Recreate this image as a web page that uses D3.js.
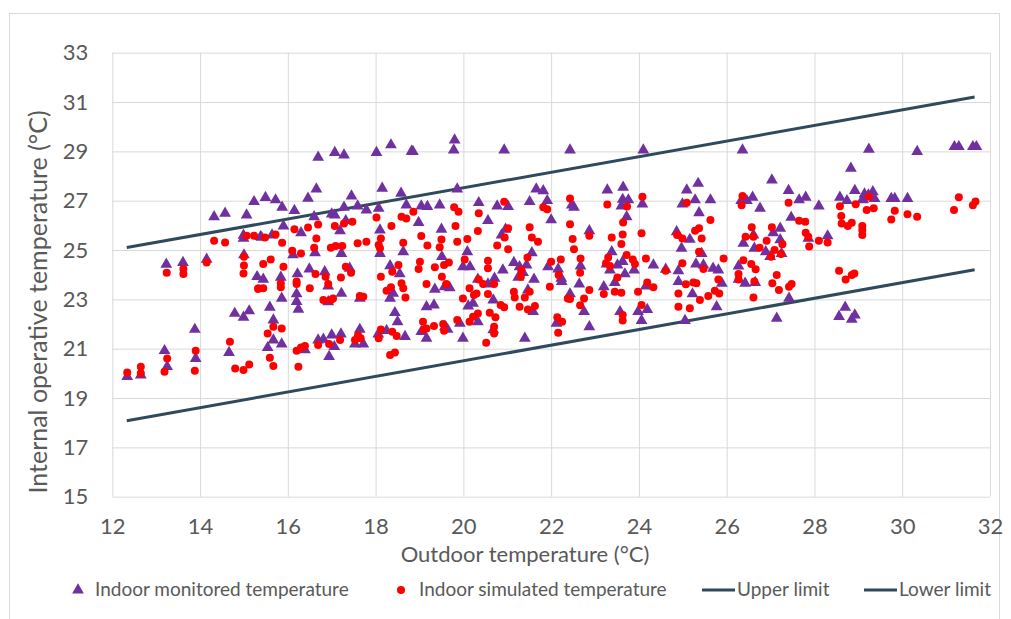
<!DOCTYPE html>
<html>
<head>
<meta charset="utf-8">
<script src="https://cdn.jsdelivr.net/npm/d3@7"></script>
<style>
	body { margin: 0; background: #fff; }
	text { font-family: Lato, "Open Sans", sans-serif; fill: #595959; }
</style>
</head>
<body>
<div id="chart"></div>
<script>
// outdoor temperature, indoor temperature (°C)
var monitored = [
	[12.34,19.87],[12.65,19.93],[13.19,20.92],[13.25,20.27],[13.88,21.78],[13.9,20.6],[13.23,24.42],[13.61,24.49],[14.15,24.62],[14.32,26.35],[14.57,26.49],[15.06,26.42],[15.23,26.96],[14.99,25.6],[14.99,25.47],[15.0,24.8],[15.3,23.92],[14.79,22.43],[14.99,22.27],[15.12,22.53],[14.66,20.84],[15.38,25.54],
	[15.49,27.13],[15.72,27.03],[15.87,26.73],[16.15,26.6],[16.46,27.1],[16.65,27.47],[16.69,28.76],[17.07,28.95],[17.28,28.85],[18.02,28.95],[18.35,29.26],[18.82,29.0],[18.15,27.5],[18.58,27.3],[18.7,26.82],[17.45,27.19],[17.28,26.73],[17.59,26.78],[17.79,26.62],[18.07,26.69],[16.6,26.35],[17.0,26.46],[17.07,26.42],[15.9,25.97],[16.3,25.7],[17.19,25.78],[17.32,26.19],[18.1,25.81],[15.4,25.51],[15.64,25.61],[16.12,24.8],[16.62,24.89],[17.22,24.86],[18.1,24.86],[18.63,24.93],[15.44,23.81],[15.84,23.89],[16.22,24.03],[16.49,24.23],[16.84,24.12],[17.41,24.26],[18.33,24.36],[18.55,24.03],[16.2,23.22],[16.2,22.91],[16.24,22.6],[15.86,23.04],[16.92,23.54],[17.22,23.24],[16.92,22.9],[17.64,23.04],[18.33,23.04],[18.4,23.24],[15.59,22.68],[15.67,22.16],[18.44,22.46],[18.5,22.09],[15.67,21.35],[15.54,21.04],[15.86,21.19],[16.39,20.95],[16.69,21.35],[16.81,21.38],[17.0,21.55],[17.21,21.59],[17.06,21.08],[16.94,20.68],[17.64,21.78],[17.53,21.19],[17.72,21.19],[18.06,21.59],[18.25,21.73],[18.67,21.49],
	[18.85,28.99],[19.8,29.46],[19.78,29.05],[20.93,29.05],[19.86,27.47],[21.66,27.47],[21.82,27.4],[19.04,26.78],[19.18,26.76],[19.46,26.82],[20.35,26.92],[20.77,26.78],[21.02,26.76],[21.51,26.96],[21.91,27.0],[22.0,26.22],[18.98,26.11],[19.5,25.84],[20.56,26.19],[20.87,25.61],[20.96,25.84],[19.51,24.73],[20.09,24.93],[19.99,24.32],[20.15,24.32],[20.9,24.19],[21.15,24.49],[21.28,24.32],[21.44,24.39],[21.56,24.89],[21.93,24.32],[22.16,24.23],[22.23,23.85],[21.61,23.81],[19.35,23.41],[19.57,23.51],[19.69,23.47],[20.33,23.81],[20.56,23.62],[20.71,23.85],[20.68,22.97],[20.11,22.73],[20.22,22.84],[19.16,22.7],[19.33,22.77],[21.25,23.89],[21.36,24.08],[21.47,23.38],[21.59,22.5],[19.04,21.69],[19.16,21.42],[19.58,21.89],[19.64,21.78],[19.92,22.03],[19.99,21.42],[20.33,22.09],[20.68,21.76],[21.4,21.42],[22.12,22.03],
	[22.43,29.05],[24.1,29.05],[23.28,27.43],[23.64,27.54],[23.63,27.05],[23.76,27.03],[23.6,26.78],[22.47,26.82],[22.52,26.73],[23.72,26.35],[24.08,26.86],[22.87,25.78],[25.09,27.43],[25.35,27.7],[24.99,26.86],[25.28,27.03],[25.37,26.51],[25.63,27.03],[24.86,25.74],[25.16,25.43],[24.97,25.07],[25.43,24.86],[23.38,24.93],[22.67,24.35],[23.26,24.43],[23.34,24.19],[23.51,24.39],[23.63,24.53],[23.68,24.03],[23.89,24.19],[23.45,23.68],[24.33,24.39],[24.61,24.22],[24.9,24.16],[24.9,23.72],[25.3,24.43],[25.47,24.39],[25.69,24.26],[25.81,24.19],[25.22,23.22],[25.77,22.7],[22.24,23.72],[22.64,23.62],[22.43,23.22],[23.2,23.51],[24.16,23.54],[22.75,22.5],[22.87,21.89],[23.57,22.5],[23.98,22.5],[24.06,22.14],[24.19,22.59],[25.05,22.14],
	[26.36,29.05],[29.24,29.08],[27.03,27.84],[28.83,28.31],[27.41,27.41],[27.65,27.03],[27.8,27.14],[28.1,26.78],[28.58,27.14],[28.74,27.0],[28.92,27.41],[29.11,27.05],[29.23,27.23],[26.33,27.0],[26.46,27.0],[26.59,27.14],[26.76,26.69],[27.47,26.32],[27.22,25.88],[27.06,25.7],[26.61,25.61],[26.38,25.27],[26.63,25.07],[27.22,25.41],[27.25,24.86],[26.89,24.93],[26.99,24.73],[28.3,25.57],[27.86,25.47],[26.27,24.35],[25.89,23.65],[26.27,23.81],[26.42,23.65],[26.65,23.68],[27.42,23.04],[27.14,22.23],[28.7,22.68],[28.56,22.3],[28.85,22.19],[28.92,22.36],
	[30.34,28.99],[31.19,29.19],[31.29,29.19],[31.61,29.19],[31.69,29.19],[29.14,27.27],[29.33,27.36],[29.09,27.03],[29.37,27.09],[29.75,27.09],[29.83,27.09],[30.12,27.09]
];

var simulated = [
	[12.34,20.04],[12.65,20.27],[12.65,20.0],[13.25,20.6],[13.19,20.07],[13.9,20.92],[13.88,20.11],[14.68,21.28],[14.8,20.2],[14.99,20.14],[15.12,20.36],[13.24,24.08],[13.62,24.23],[13.62,24.03],[14.15,24.49],[14.32,25.38],[14.57,25.31],[15.06,25.58],[15.23,25.58],[15.0,24.73],[15.0,24.37],[14.99,24.05],[15.32,23.42],
	[15.48,25.51],[15.72,25.63],[15.87,25.3],[16.15,25.84],[16.46,25.91],[16.69,26.04],[16.65,25.47],[17.07,25.97],[17.28,26.08],[17.47,26.15],[18.02,26.32],[18.36,25.97],[18.59,26.35],[18.7,26.28],[18.86,26.55],[16.1,24.97],[16.3,24.86],[16.6,25.09],[16.98,25.09],[17.09,25.16],[17.24,25.16],[17.59,25.27],[17.79,25.34],[18.12,25.47],[18.07,25.2],[18.1,25.07],[18.63,25.3],[15.44,24.43],[15.61,24.62],[15.9,24.32],[16.63,24.03],[16.86,23.92],[16.92,23.62],[17.21,23.89],[17.32,24.32],[17.44,24.08],[18.12,23.92],[18.38,24.12],[18.52,24.39],[15.33,23.45],[15.44,23.45],[15.84,23.65],[15.84,23.49],[16.2,23.72],[16.2,23.62],[16.5,23.45],[16.81,22.97],[16.98,22.97],[17.03,23.04],[17.64,23.14],[17.72,23.11],[18.25,23.35],[18.35,23.49],[18.59,23.65],[18.68,23.08],[18.63,23.45],[15.67,21.89],[15.86,21.82],[15.54,21.62],[15.59,20.63],[15.67,20.3],[16.2,20.92],[16.3,21.05],[16.39,21.11],[16.24,20.27],[16.69,21.15],[16.94,21.19],[17.19,21.35],[17.53,21.35],[17.6,21.55],[17.66,21.42],[18.07,21.42],[18.12,21.78],[18.38,21.69],[18.48,21.51],[18.33,20.74],[18.44,20.85],
	[19.79,26.73],[19.89,26.55],[20.35,26.49],[20.93,26.96],[21.82,26.73],[21.91,26.65],[19.82,25.97],[20.33,25.77],[21.02,25.88],[21.51,25.92],[19.04,25.57],[19.5,25.43],[19.46,25.11],[19.86,25.34],[20.09,25.45],[19.18,25.18],[20.77,25.18],[20.94,25.51],[21.02,25.03],[21.56,25.51],[21.7,25.34],[19.01,24.53],[18.98,24.23],[19.35,24.3],[19.56,24.39],[19.67,24.49],[20.03,24.62],[20.56,24.57],[20.56,24.26],[21.46,24.7],[22.0,24.53],[22.22,24.62],[21.32,24.19],[21.31,23.92],[22.17,23.99],[19.16,23.62],[19.51,23.92],[19.61,23.62],[20.14,23.45],[20.35,23.81],[20.45,23.62],[20.7,23.62],[20.56,23.22],[19.99,23.04],[20.24,23.18],[20.3,23.24],[21.15,23.31],[21.17,23.08],[21.4,23.08],[21.51,23.31],[20.85,22.77],[20.93,22.68],[21.28,22.7],[21.47,22.59],[21.63,22.73],[21.97,23.51],[22.38,23.04],[19.08,22.09],[19.1,21.78],[19.16,21.82],[19.33,21.92],[19.54,22.0],[19.56,21.73],[19.86,22.16],[20.14,22.09],[20.22,22.3],[20.33,22.43],[20.6,22.46],[20.73,22.27],[20.7,21.89],[20.7,21.62],[20.52,21.24],[22.14,22.27],[22.25,22.09],[22.16,21.65],
	[22.43,27.09],[23.28,26.85],[24.08,27.16],[23.73,26.76],[23.64,26.12],[22.43,26.05],[24.06,25.68],[22.87,25.58],[23.38,25.51],[23.63,25.63],[23.6,25.24],[22.49,25.45],[22.52,25.03],[25.09,26.92],[25.63,26.22],[25.28,25.78],[25.37,25.88],[25.43,25.47],[24.87,25.61],[24.99,25.47],[25.37,24.93],[24.99,24.46],[25.47,24.23],[22.67,24.66],[23.3,24.7],[23.34,24.35],[23.25,24.46],[23.72,24.8],[23.86,24.62],[23.91,24.43],[24.16,24.66],[22.66,24.08],[23.51,23.89],[24.61,24.16],[22.87,23.38],[23.45,23.31],[23.6,23.27],[23.98,23.31],[24.19,23.68],[24.33,23.49],[25.07,23.61],[25.24,23.68],[25.31,23.65],[24.9,23.24],[25.58,23.14],[25.73,23.35],[25.83,23.24],[22.43,23.01],[22.75,23.04],[22.66,22.76],[23.2,23.22],[24.06,22.77],[23.63,22.37],[23.63,22.14],[24.9,22.7],[25.16,22.64],[25.39,22.97],
	[26.36,27.19],[26.34,26.82],[27.41,26.92],[27.65,26.19],[27.79,26.15],[26.57,25.92],[27.03,25.92],[26.43,25.54],[26.61,25.54],[27.8,25.7],[27.86,25.54],[27.88,25.14],[28.1,25.38],[28.3,25.31],[26.91,25.38],[26.75,25.09],[27.27,25.23],[27.09,25.0],[27.01,24.73],[27.24,24.84],[28.58,26.78],[28.61,26.38],[28.62,26.08],[28.76,25.97],[28.85,26.11],[28.94,26.86],[29.09,25.97],[29.09,25.81],[29.09,25.61],[29.19,26.62],[29.24,27.16],[25.93,24.66],[26.38,24.59],[26.56,24.43],[26.66,24.22],[25.81,23.81],[26.27,24.03],[26.27,23.81],[26.63,23.72],[27.14,23.99],[27.04,23.65],[27.19,23.38],[27.42,23.51],[27.48,23.62],[26.61,23.08],[28.56,24.16],[28.71,23.81],[28.85,23.99],[28.91,24.05],
	[29.35,26.69],[29.83,26.59],[29.75,26.24],[30.12,26.45],[30.34,26.35],[31.18,26.62],[31.29,27.14],[31.61,26.82],[31.67,26.97]
];

var upperLimit = [[12.33, 25.1], [31.65, 31.2]];
var lowerLimit = [[12.33, 18.08], [31.65, 24.2]];

var xTicks = [12, 14, 16, 18, 20, 22, 24, 26, 28, 30, 32];
var yTicks = [15, 17, 19, 21, 23, 25, 27, 29, 31, 33];

function init() {

	var w = 1011;
	var h = 619;
	var left = 112.3, right = 990, top = 52.7, bottom = 496.7;

	var svg = d3.select("#chart")
		.append("svg")
		.attr("width", w)
		.attr("height", h);

	// chart border
	svg.append("rect")
		.attr("x", 9.5)
		.attr("y", 13.5)
		.attr("width", 990)
		.attr("height", 620)
		.attr("fill", "none")
		.attr("stroke", "#d9d9d9");

	var xScale = d3.scaleLinear()
		.domain([12, 32])
		.range([left, right]);

	var yScale = d3.scaleLinear()
		.domain([15, 33])
		.range([bottom, top]);

	// gridlines
	svg.append("g")
		.attr("transform", `translate(0,${bottom})`)
		.call(d3.axisBottom(xScale).tickValues(xTicks).tickSize(-(bottom - top)).tickFormat(""))
		.call(g => g.select(".domain").remove())
		.call(g => g.selectAll("line").attr("stroke", "#d9d9d9"));

	svg.append("g")
		.attr("transform", `translate(${left},0)`)
		.call(d3.axisLeft(yScale).tickValues(yTicks).tickSize(-(right - left)).tickFormat(""))
		.call(g => g.select(".domain").remove())
		.call(g => g.selectAll("line").attr("stroke", "#d9d9d9"));

	// tick labels
	svg.append("g")
		.attr("transform", `translate(0,${bottom + 19})`)
		.call(d3.axisBottom(xScale).tickValues(xTicks).tickSize(0))
		.call(g => g.select(".domain").remove())
		.call(g => g.selectAll("text").attr("font-size", 22).attr("fill", "#595959").style("font-family", "Lato, sans-serif"));

	svg.append("g")
		.attr("transform", `translate(${left - 21},0)`)
		.call(d3.axisLeft(yScale).tickValues(yTicks).tickSize(0))
		.call(g => g.select(".domain").remove())
		.call(g => g.selectAll("text").attr("font-size", 22).attr("fill", "#595959").style("font-family", "Lato, sans-serif"));

	// axis titles
	svg.append("text")
		.attr("x", 525)
		.attr("y", 562)
		.attr("text-anchor", "middle")
		.attr("font-size", 22)
		.text("Outdoor temperature (°C)");

	svg.append("text")
		.attr("transform", "translate(47,302) rotate(-90)")
		.attr("text-anchor", "middle")
		.attr("font-size", 25)
		.text("Internal operative temperature (°C)");

	var line = d3.line()
		.x(d => xScale(d[0]))
		.y(d => yScale(d[1]));

	svg.append("path")
		.datum(upperLimit)
		.attr("d", line)
		.attr("fill", "none")
		.attr("stroke", "#2e4a5c")
		.attr("stroke-width", 3);

	svg.append("path")
		.datum(lowerLimit)
		.attr("d", line)
		.attr("fill", "none")
		.attr("stroke", "#2e4a5c")
		.attr("stroke-width", 3);

	var tri = d3.symbol().type(d3.symbolTriangle).size(60);

	svg.append("g")
		.selectAll("path")
		.data(monitored)
		.join("path")
			.attr("transform", d => `translate(${xScale(d[0])},${yScale(d[1])})`)
			.attr("d", tri)
			.attr("fill", "#7030a0");

	svg.append("g")
		.selectAll("circle")
		.data(simulated)
		.join("circle")
			.attr("cx", d => xScale(d[0]))
			.attr("cy", d => yScale(d[1]))
			.attr("r", 4)
			.attr("fill", "#ff0000");

	// legend
	var ly = 590;
	var legend = svg.append("g");

	legend.append("path")
		.attr("transform", `translate(78,${ly})`)
		.attr("d", tri)
		.attr("fill", "#7030a0");
	legend.append("text")
		.attr("x", 95).attr("y", ly + 6)
		.attr("font-size", 19)
		.text("Indoor monitored temperature");

	legend.append("circle")
		.attr("cx", 401).attr("cy", ly)
		.attr("r", 4)
		.attr("fill", "#ff0000");
	legend.append("text")
		.attr("x", 419).attr("y", ly + 6)
		.attr("font-size", 19)
		.text("Indoor simulated temperature");

	legend.append("line")
		.attr("x1", 702).attr("x2", 735)
		.attr("y1", ly).attr("y2", ly)
		.attr("stroke", "#2e4a5c")
		.attr("stroke-width", 3);
	legend.append("text")
		.attr("x", 737).attr("y", ly + 6)
		.attr("font-size", 19)
		.text("Upper limit");

	legend.append("line")
		.attr("x1", 864).attr("x2", 897)
		.attr("y1", ly).attr("y2", ly)
		.attr("stroke", "#2e4a5c")
		.attr("stroke-width", 3);
	legend.append("text")
		.attr("x", 899).attr("y", ly + 6)
		.attr("font-size", 19)
		.text("Lower limit");
}

window.onload = init;
</script>
</body>
</html>
